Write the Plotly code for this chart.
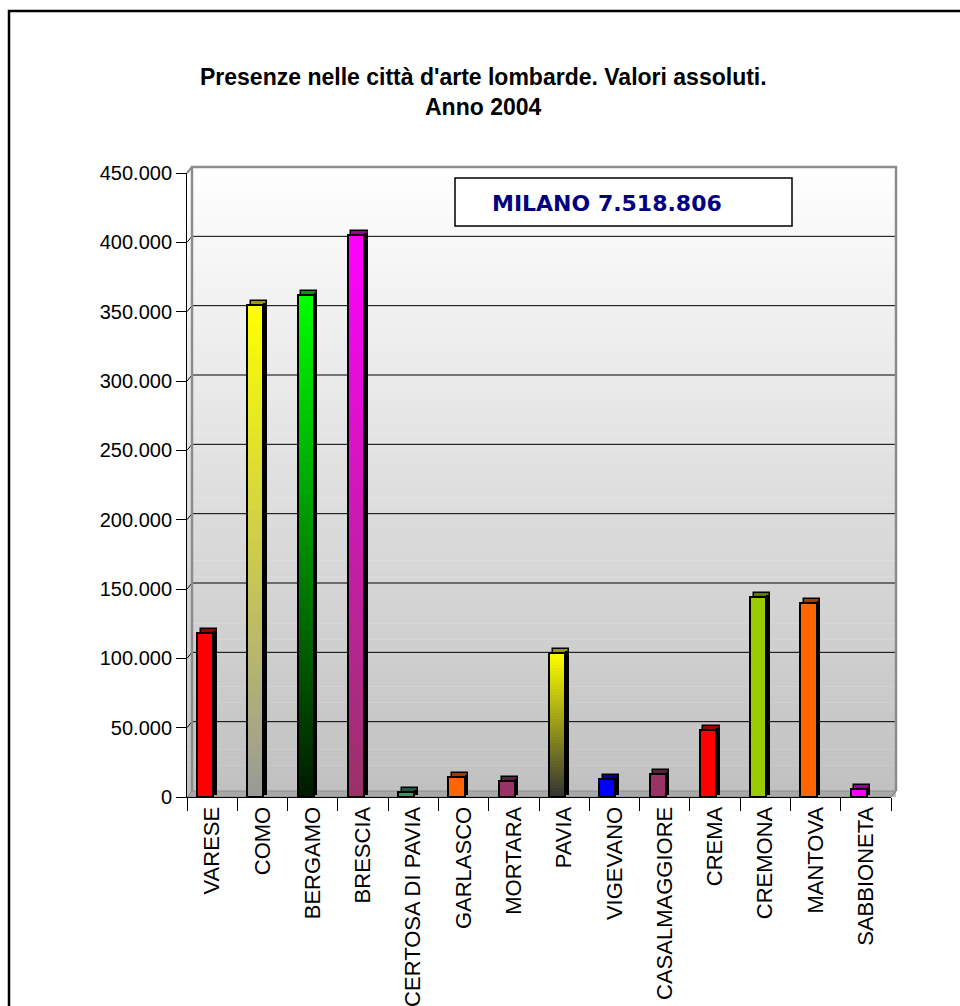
import plotly.graph_objects as go

# ---- data -------------------------------------------------------------
cities = ["VARESE", "COMO", "BERGAMO", "BRESCIA", "CERTOSA DI PAVIA", "GARLASCO",
          "MORTARA", "PAVIA", "VIGEVANO", "CASALMAGGIORE", "CREMA", "CREMONA",
          "MANTOVA", "SABBIONETA"]
presenze = [118000, 355000, 362000, 405000, 3500, 14500,
            11500, 104000, 13000, 16500, 48000, 144000,
            140000, 6000]
y_ticks = [0, 50000, 100000, 150000, 200000, 250000, 300000, 350000, 400000, 450000]
milano_label = "MILANO 7.518.806"
title_1 = "Presenze nelle città d'arte lombarde. Valori assoluti."
title_2 = "Anno 2004"

# fill colours: top of the bar / bottom of the bar (gradient where they differ)
top_colors = ["#FF0000", "#FFFF00", "#00FF00", "#FF00FF", "#339966", "#FF6600",
              "#993366", "#FFFF00", "#0000FF", "#993366", "#FF0000", "#99CC00",
              "#FF6600", "#FF00FF"]
bottom_colors = ["#FF0000", "#999999", "#001A00", "#993366", "#339966", "#FF6600",
                 "#993366", "#333333", "#0000FF", "#993366", "#FF0000", "#99CC00",
                 "#FF6600", "#FF00FF"]

# ---- geometry (pixels) ------------------------------------------------
W_FIG, H_FIG = 960, 1006
L, R_EDGE = 187, 891        # front x-axis extent
B, T = 797, 173             # y of value 0 and of 450.000
PW, PH = R_EDGE - L, B - T
Y_MAX = 450000
WX, WY = 5, 6               # depth of the back wall
DX_BAR, DY_BAR = 0.07, 4    # bar depth (category units, pixels)
BAR_OFF, BAR_W = -0.30, 0.32
FONT = "Liberation Sans, Arial, sans-serif"


def px(x):
    return (x - L) / PW


def py(y):
    return (B - y) / PH


def val_per_px():
    return Y_MAX / PH


def hex_rgb(c):
    c = c.lstrip("#")
    return tuple(int(c[i:i + 2], 16) for i in (0, 2, 4))


def mix(c_lo, c_hi, t):
    a, b = hex_rgb(c_lo), hex_rgb(c_hi)
    return "rgb(%d,%d,%d)" % tuple(round(a[k] + (b[k] - a[k]) * t) for k in range(3))


def darker(c, f=0.6):
    r, g, b = hex_rgb(c)
    return "rgb(%d,%d,%d)" % (r * f, g * f, b * f)


fig = go.Figure()
dy_val = DY_BAR * val_per_px()

# back box of each bar (its top shows as the cap)
fig.add_trace(go.Bar(
    x=cities, y=presenze, base=[dy_val] * len(cities),
    offset=BAR_OFF + DX_BAR, width=BAR_W,
    marker=dict(color=[darker(c) for c in top_colors],
                line=dict(color="black", width=1.5)),
    hoverinfo="skip", showlegend=False))

# dark right-hand side of each bar
fig.add_trace(go.Bar(
    x=cities, y=presenze, base=[dy_val * 0.5] * len(cities),
    offset=BAR_OFF + BAR_W, width=DX_BAR,
    marker=dict(color="black", line=dict(width=0)),
    hoverinfo="skip", showlegend=False))

# front faces, filled with a vertical gradient built from stacked slices
N_SLICES = 48
for i in range(N_SLICES):
    t = (i + 0.5) / N_SLICES
    fig.add_trace(go.Bar(
        x=cities,
        y=[v / N_SLICES * 1.05 for v in presenze],
        base=[v * i / N_SLICES for v in presenze],
        offset=BAR_OFF, width=BAR_W,
        marker=dict(color=[mix(lo, hi, t) for lo, hi in zip(bottom_colors, top_colors)],
                    line=dict(width=0)),
        hoverinfo="skip", showlegend=False))

# outline of the front faces
fig.add_trace(go.Bar(
    x=cities, y=presenze, offset=BAR_OFF, width=BAR_W,
    marker=dict(color="rgba(0,0,0,0)", line=dict(color="black", width=2)),
    hoverinfo="skip", showlegend=False))

shapes = []

# back wall background: white at the top fading to light grey
N_BANDS = 80
top_px, bot_px = T - WY, B
for i in range(N_BANDS):
    y0 = bot_px - (bot_px - top_px) * i / N_BANDS
    y1 = bot_px - (bot_px - top_px) * (i + 1) / N_BANDS
    g = round(192 + (255 - 192) * (i + 0.5) / N_BANDS)
    shapes.append(dict(type="rect", xref="paper", yref="paper",
                       x0=px(L), x1=px(R_EDGE + WX), y0=py(y0), y1=py(y1) + 0.0005,
                       fillcolor="rgb(%d,%d,%d)" % (g, g, g), line=dict(width=0),
                       layer="below"))

# gridlines on the back wall, with the short slanted run on the left wall
shift_val = WY * val_per_px()
for v in y_ticks[1:-1]:
    shapes.append(dict(type="path", xref="paper", yref="y",
                       path="M %f,%f L %f,%f L %f,%f" % (px(L), v, px(L + WX), v + shift_val,
                                                         px(R_EDGE + WX), v + shift_val),
                       line=dict(color="black", width=1), layer="below"))

# floor
shapes.append(dict(type="path", xref="paper", yref="paper",
                   path="M %f,%f L %f,%f L %f,%f L %f,%f Z" % (
                       px(L), py(B), px(L + WX), py(B - WY),
                       px(R_EDGE + WX), py(B - WY), px(R_EDGE), py(B)),
                   fillcolor="#A8A8A8", line=dict(color="#8C8C8C", width=1),
                   layer="below"))

# frame of the back wall and the left wall
wall_grey = "#8C8C8C"
shapes.append(dict(type="path", xref="paper", yref="paper",
                   path="M %f,%f L %f,%f L %f,%f L %f,%f" % (
                       px(L + WX), py(B - WY), px(L + WX), py(T - WY),
                       px(R_EDGE + WX), py(T - WY), px(R_EDGE + WX), py(B - WY)),
                   line=dict(color=wall_grey, width=2.5), layer="below"))
shapes.append(dict(type="path", xref="paper", yref="paper",
                   path="M %f,%f L %f,%f" % (px(L), py(T), px(L + WX), py(T - WY)),
                   line=dict(color=wall_grey, width=2), layer="below"))
shapes.append(dict(type="path", xref="paper", yref="paper",
                   path="M %f,%f L %f,%f" % (px(R_EDGE), py(B), px(R_EDGE + WX), py(B - WY)),
                   line=dict(color=wall_grey, width=1.5), layer="below"))

# box for the Milano figure
shapes.append(dict(type="rect", xref="paper", yref="paper",
                   x0=px(455), x1=px(792), y0=py(226), y1=py(178),
                   fillcolor="white", line=dict(color="black", width=1.5)))

# outer frame of the whole chart (open to the right and bottom)
shapes.append(dict(type="rect", xref="paper", yref="paper",
                   x0=px(9), x1=px(1100), y0=py(1200), y1=py(11),
                   fillcolor="rgba(0,0,0,0)", line=dict(color="black", width=2.5)))

annotations = [
    dict(text="<b>%s</b>" % title_1, xref="paper", yref="paper",
         x=px(483), y=py(77), showarrow=False, xanchor="center", yanchor="middle",
         font=dict(family=FONT, size=23, color="black")),
    dict(text="<b>%s</b>" % title_2, xref="paper", yref="paper",
         x=px(483), y=py(107), showarrow=False, xanchor="center", yanchor="middle",
         font=dict(family=FONT, size=23, color="black")),
    dict(text="<b>%s</b>" % milano_label, xref="paper", yref="paper",
         x=px(607), y=py(203), showarrow=False, xanchor="center", yanchor="middle",
         font=dict(family="DejaVu Sans, Verdana, sans-serif", size=22, color="#000080")),
]

fig.update_layout(
    width=W_FIG, height=H_FIG,
    margin=dict(l=L, r=W_FIG - R_EDGE, t=T, b=H_FIG - B, pad=0, autoexpand=False),
    paper_bgcolor="white", plot_bgcolor="rgba(0,0,0,0)",
    barmode="overlay", bargap=0,
    separators=",.",
    showlegend=False,
    shapes=shapes, annotations=annotations,
    font=dict(family=FONT, color="black"),
    xaxis=dict(type="category", categoryorder="array", categoryarray=cities,
               range=[-0.5, len(cities) - 0.5], automargin=False,
               tickson="boundaries", ticks="outside", ticklen=13, tickcolor="black",
               tickwidth=1, tickangle=-90, showline=True, linecolor="black",
               linewidth=1, showgrid=False, zeroline=False,
               tickfont=dict(size=22, family=FONT)),
    yaxis=dict(range=[0, Y_MAX], tickvals=y_ticks, tickformat=",d", automargin=False,
               ticks="outside", ticklen=10, tickcolor="black", tickwidth=1,
               showline=True, linecolor="black", linewidth=1,
               showgrid=False, zeroline=False,
               tickfont=dict(size=20, family=FONT)),
)

fig.write_html("out.html")
